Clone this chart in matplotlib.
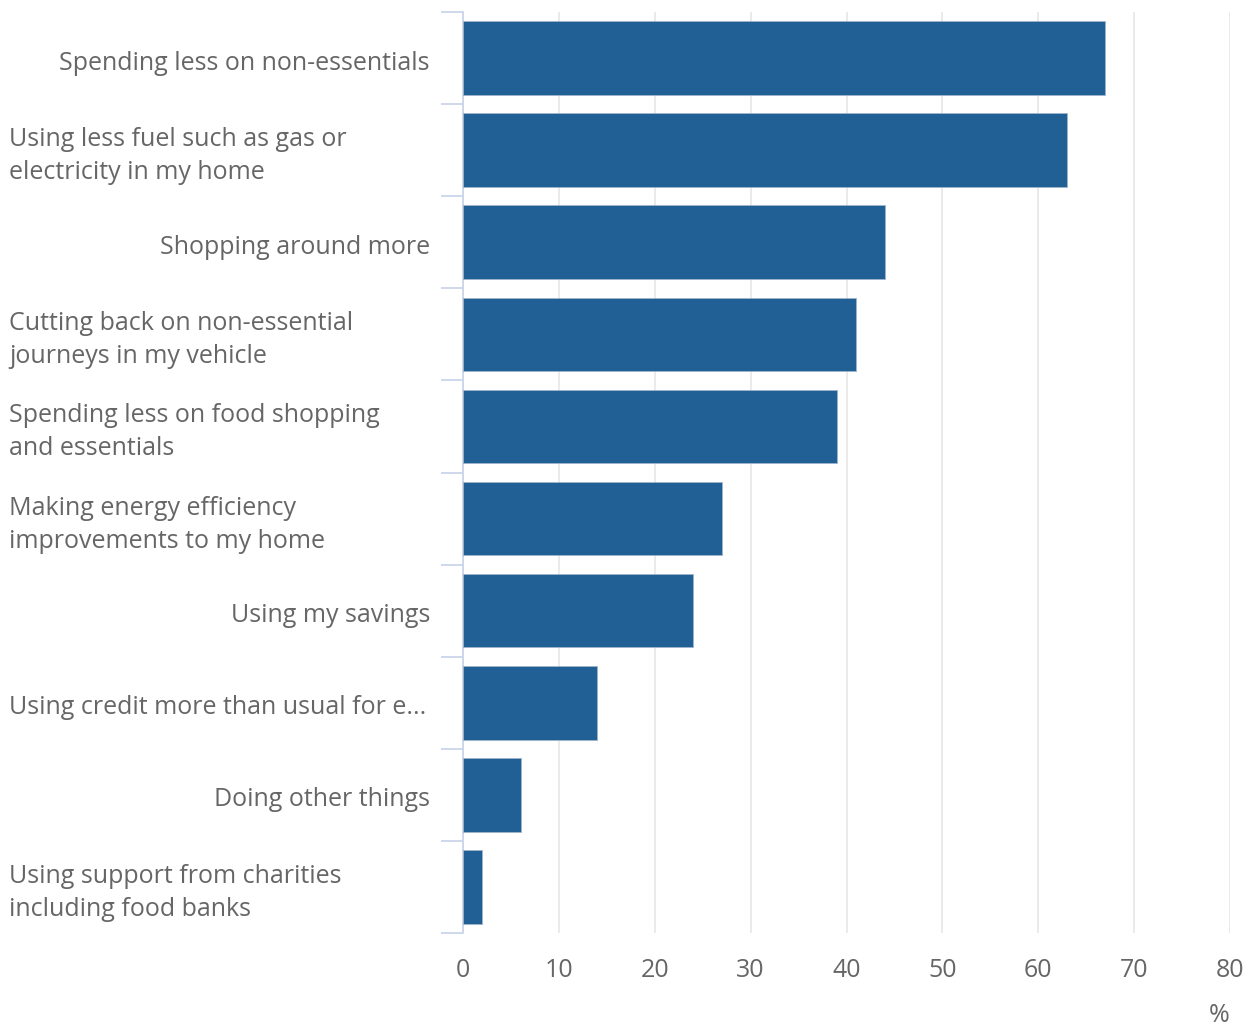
import matplotlib
matplotlib.use("Agg")
import matplotlib.pyplot as plt
from matplotlib.transforms import blended_transform_factory, offset_copy

plt.rcParams['font.family'] = ['Open Sans', 'DejaVu Sans']

categories = [
    "Spending less on non-essentials",
    "Using less fuel such as gas or\nelectricity in my home",
    "Shopping around more",
    "Cutting back on non-essential\njourneys in my vehicle",
    "Spending less on food shopping\nand essentials",
    "Making energy efficiency\nimprovements to my home",
    "Using my savings",
    "Using credit more than usual for e...",
    "Doing other things",
    "Using support from charities\nincluding food banks",
]
values = [67, 63, 44, 41, 39, 27, 24, 14, 6, 2]
xticks = [0, 10, 20, 30, 40, 50, 60, 70, 80]

W, H = 1255, 1027
fig = plt.figure(figsize=(W / 100, H / 100), dpi=100)
ax_l, ax_r, ax_t, ax_b = 463, 1230, 12, 933
ax = fig.add_axes([ax_l / W, 1 - ax_b / H, (ax_r - ax_l) / W, (ax_b - ax_t) / H])

text_color = "#666666"
bar_color = "#206095"
fs = 18
n = len(categories)
ypos = list(range(n))
ax.barh(ypos, values, height=0.8, color=bar_color, edgecolor="#9fb4cc", linewidth=0.6, zorder=3)
ax.set_ylim(n - 0.5, -0.5)
ax.set_xlim(0, 80)

ax.set_xticks(xticks)
ax.set_xticklabels([str(t) for t in xticks], fontsize=fs, color=text_color)
ax.tick_params(axis='x', length=0, pad=18)
ax.grid(axis='x', color="#e6e6e6", linewidth=1.2, zorder=0)

# category boundary ticks
ax.set_yticks([i - 0.5 for i in range(n + 1)])
ax.set_yticklabels([])
ax.tick_params(axis='y', length=16, width=1.3, color="#ccd6eb", direction='out')

for s in ["top", "right", "bottom"]:
    ax.spines[s].set_visible(False)
ax.spines["left"].set_color("#ccd6eb")
ax.spines["left"].set_linewidth(1.3)

base = blended_transform_factory(fig.transFigure, ax.transData)
trans_single = offset_copy(base, fig=fig, x=0, y=-5, units='dots')
trans_multi = offset_copy(base, fig=fig, x=0, y=-6, units='dots')
for i, c in enumerate(categories):
    if "\n" in c:
        ax.text(9 / W, i, c, transform=trans_multi, ha='left', va='center',
                fontsize=fs, color=text_color, linespacing=1.42)
    elif c.startswith("Using credit"):
        ax.text(9 / W, i, c, transform=trans_single, ha='left', va='center',
                fontsize=fs, color=text_color)
    else:
        ax.text(430 / W, i, c, transform=trans_single, ha='right', va='center',
                fontsize=fs, color=text_color)

fig.text(1230 / W, 1 - 1015 / H, "%", ha='right', va='center', fontsize=fs, color=text_color)

fig.savefig("out.png", dpi=100, facecolor="white")
